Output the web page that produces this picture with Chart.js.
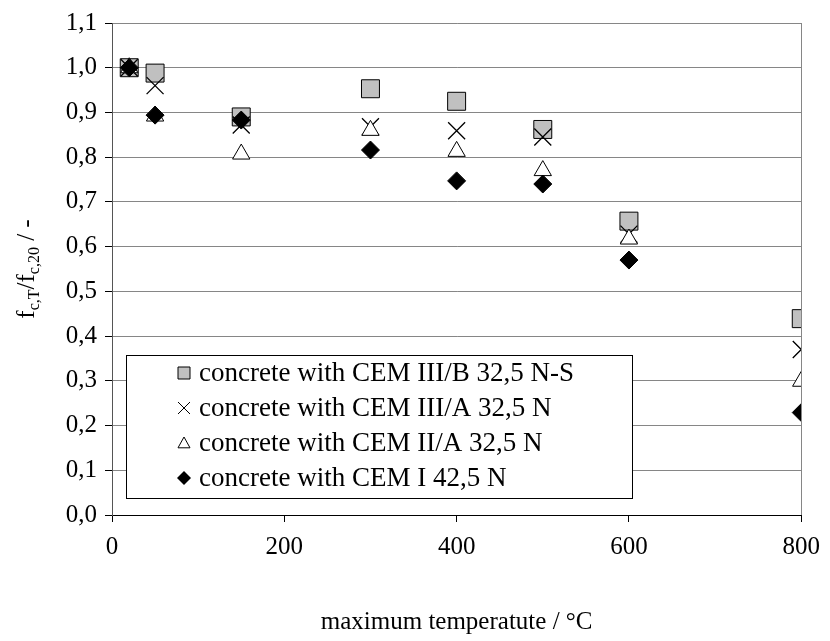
<!DOCTYPE html>
<html lang="en">
<head>
  <meta charset="UTF-8">
  <title>Relative compressive strength</title>
  <script src="https://cdn.jsdelivr.net/npm/chart.js@4.4.1/dist/chart.umd.min.js"></script>
  <style>
    html, body { margin: 0; padding: 0; background: #fff; }
    #wrap { width: 830px; height: 641px; }
  </style>
</head>
<body>
  <div id="wrap"><canvas id="chart" width="830" height="641"></canvas></div>
  <script>
    // temperatures (°C) and relative strength f_c,T / f_c,20
    const temps = [20, 50, 150, 300, 400, 500, 600, 800];
    const cemIIIB = [1.0, 0.988, 0.890, 0.953, 0.925, 0.862, 0.657, 0.439];
    const cemIIIA = [1.0, 0.960, 0.872, 0.868, 0.859, 0.845, 0.628, 0.370];
    const cemIIA = [1.0, 0.892, 0.807, 0.860, 0.813, 0.770, 0.617, 0.299];
    const cemI = [1.0, 0.894, 0.883, 0.816, 0.747, 0.740, 0.570, 0.229];
    const labels = [
      'concrete with CEM III/B 32,5 N-S',
      'concrete with CEM III/A 32,5 N',
      'concrete with CEM II/A 32,5 N',
      'concrete with CEM I 42,5 N'
    ];
    const xTicks = [0, 200, 400, 600, 800];

    const FONT = 'Liberation Serif, Times New Roman, serif';
    const pts = arr => arr.map((v, i) => ({ x: temps[i], y: v }));

    // right border of the plot and the boxed legend inside the plot
    const extras = {
      id: 'extras',
      afterDatasetsDraw(chart) {
        const { ctx, chartArea: a } = chart;
        ctx.save();
        ctx.strokeStyle = '#868686';
        ctx.lineWidth = 1;
        ctx.beginPath();
        ctx.moveTo(Math.round(a.right) + 0.5, a.top);
        ctx.lineTo(Math.round(a.right) + 0.5, a.bottom);
        ctx.stroke();

        // legend box
        const bx = 126, by = 355, bw = 506, bh = 143;
        ctx.fillStyle = '#fff';
        ctx.fillRect(bx, by, bw, bh);
        ctx.strokeStyle = '#000';
        ctx.strokeRect(bx + 0.5, by + 0.5, bw, bh);
        ctx.font = '27px ' + FONT;
        ctx.textBaseline = 'middle';
        ctx.fillStyle = '#000';
        const mx = 184;
        labels.forEach((t, i) => {
          const y = 373 + i * 35;
          drawMarker(ctx, i, mx, y, 6);
          ctx.fillStyle = '#000';
          ctx.fillText(t, 199, y + 1);
        });
        ctx.restore();
      },
      afterDraw(chart) {
        // y axis title with subscripts
        const { ctx, chartArea: a } = chart;
        const parts = [
          ['f', false], ['c,T', true], ['/f', false], ['c,20', true], [' / -', false]
        ];
        ctx.save();
        const big = '25px ' + FONT, small = '16px ' + FONT;
        let total = 0;
        parts.forEach(p => { ctx.font = p[1] ? small : big; total += ctx.measureText(p[0]).width; });
        ctx.translate(34, (a.top + a.bottom) / 2);
        ctx.rotate(-Math.PI / 2);
        ctx.textBaseline = 'alphabetic';
        ctx.fillStyle = '#000';
        let x = -total / 2;
        parts.forEach(p => {
          ctx.font = p[1] ? small : big;
          ctx.fillText(p[0], x, p[1] ? 5 : 0);
          x += ctx.measureText(p[0]).width;
        });
        ctx.restore();
      }
    };

    function drawMarker(ctx, i, x, y, s) {
      ctx.save();
      ctx.lineWidth = 1;
      ctx.strokeStyle = '#000';
      ctx.beginPath();
      if (i === 0) {
        ctx.fillStyle = '#c0c0c0';
        ctx.rect(x - s, y - s, 2 * s, 2 * s);
        ctx.fill(); ctx.stroke();
      } else if (i === 1) {
        ctx.moveTo(x - s, y - s); ctx.lineTo(x + s, y + s);
        ctx.moveTo(x + s, y - s); ctx.lineTo(x - s, y + s);
        ctx.stroke();
      } else if (i === 2) {
        ctx.fillStyle = '#fff';
        ctx.moveTo(x, y - s); ctx.lineTo(x + s, y + s * 0.8); ctx.lineTo(x - s, y + s * 0.8);
        ctx.closePath(); ctx.fill(); ctx.stroke();
      } else {
        ctx.fillStyle = '#000';
        ctx.moveTo(x, y - s - 1); ctx.lineTo(x + s + 1, y); ctx.lineTo(x, y + s + 1); ctx.lineTo(x - s - 1, y);
        ctx.closePath(); ctx.fill();
      }
      ctx.restore();
    }

    const ctx = document.getElementById('chart').getContext('2d');
    const myChart = new Chart(ctx, {
      type: 'scatter',
      data: {
        datasets: [{
          label: labels[0],
          data: pts(cemIIIB),
          pointStyle: 'rect',
          pointRadius: 12.7,
          backgroundColor: '#c0c0c0',
          borderColor: '#000',
          borderWidth: 1,
          order: 3
        }, {
          label: labels[1],
          data: pts(cemIIIA),
          pointStyle: 'crossRot',
          pointRadius: 12,
          borderColor: '#000',
          borderWidth: 1.3,
          order: 2
        }, {
          label: labels[2],
          data: pts(cemIIA),
          pointStyle: 'triangle',
          pointRadius: 10,
          backgroundColor: '#fff',
          borderColor: '#000',
          borderWidth: 1,
          order: 1
        }, {
          label: labels[3],
          data: pts(cemI),
          pointStyle: 'rectRot',
          pointRadius: 9,
          backgroundColor: '#000',
          borderColor: '#000',
          borderWidth: 1,
          order: 0
        }]
      },
      options: {
        responsive: false,
        animation: false,
        layout: { padding: { left: 0, right: 23, top: 18, bottom: 0 } },
        plugins: {
          legend: { display: false },
          tooltip: { enabled: false }
        },
        scales: {
          x: {
            type: 'linear',
            min: 0,
            max: 800,
            afterBuildTicks: s => { s.ticks = xTicks.map(v => ({ value: v })); },
            afterFit: s => { s.height = 126; },
            ticks: { color: '#000', font: { family: FONT, size: 25 }, padding: 10 },
            grid: { drawOnChartArea: false, drawTicks: true, tickLength: 7, tickColor: '#000' },
            border: { color: '#000', width: 1 },
            title: {
              display: true,
              text: 'maximum temperatute / °C',
              color: '#000',
              font: { family: FONT, size: 25 },
              padding: { top: 0, bottom: 4 }
            }
          },
          y: {
            min: 0,
            max: 1.1,
            afterFit: s => { s.width = 112; },
            ticks: {
              stepSize: 0.1,
              color: '#000',
              font: { family: FONT, size: 25 },
              padding: 8,
              callback: v => v.toFixed(1).replace('.', ',')
            },
            grid: { color: '#868686', tickColor: '#000', tickLength: 7 },
            border: { color: '#555', width: 1 }
          }
        }
      },
      plugins: [extras]
    });
  </script>
</body>
</html>
